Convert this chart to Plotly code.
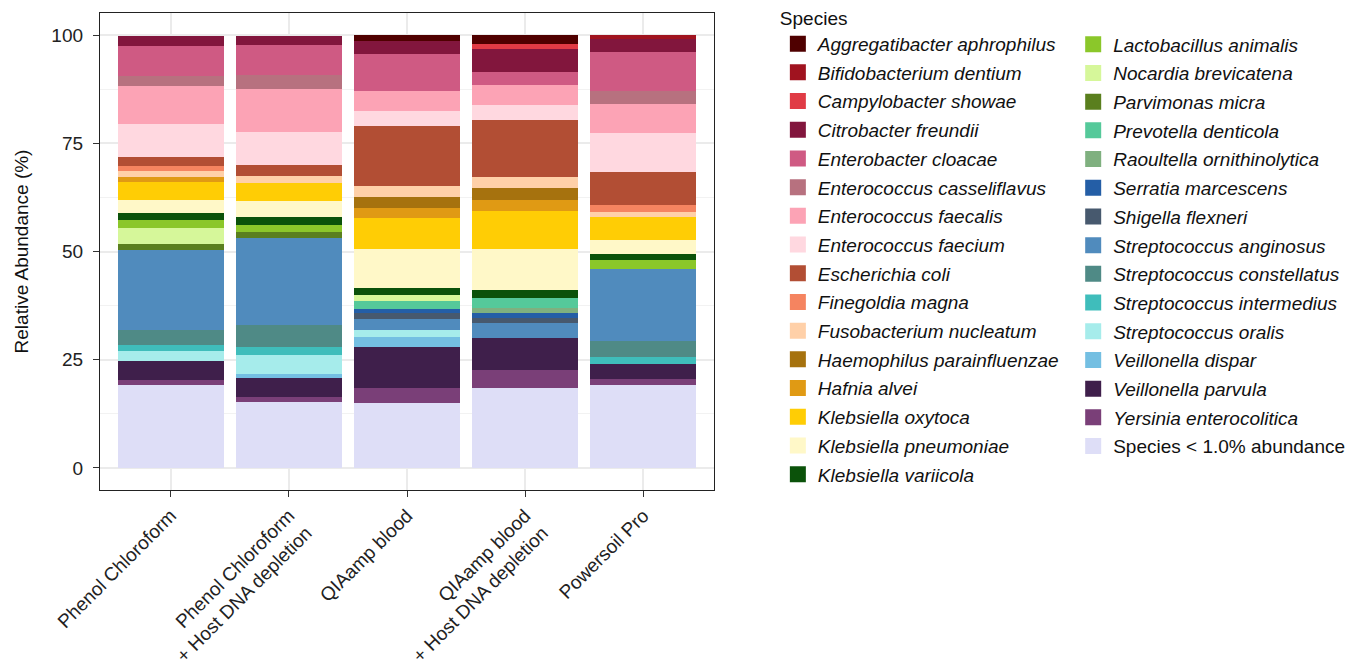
import plotly.graph_objects as go

samples = [
    "Phenol Chloroform",
    "Phenol Chloroform<br>+ Host DNA depletion",
    "QIAamp blood",
    "QIAamp blood<br>+ Host DNA depletion",
    "Powersoil Pro",
]

species = [
    "Aggregatibacter aphrophilus", "Bifidobacterium dentium", "Campylobacter showae",
    "Citrobacter freundii", "Enterobacter cloacae", "Enterococcus casseliflavus",
    "Enterococcus faecalis", "Enterococcus faecium", "Escherichia coli",
    "Finegoldia magna", "Fusobacterium nucleatum", "Haemophilus parainfluenzae",
    "Hafnia alvei", "Klebsiella oxytoca", "Klebsiella pneumoniae",
    "Klebsiella variicola", "Lactobacillus animalis", "Nocardia brevicatena",
    "Parvimonas micra", "Prevotella denticola", "Raoultella ornithinolytica",
    "Serratia marcescens", "Shigella flexneri", "Streptococcus anginosus",
    "Streptococcus constellatus", "Streptococcus intermedius", "Streptococcus oralis",
    "Veillonella dispar", "Veillonella parvula", "Yersinia enterocolitica",
    "Species < 1.0% abundance",
]

colors = [
    "#4F0000", "#A0131F", "#E03B45", "#82163D", "#CF5A83", "#B7717F",
    "#FCA3B5", "#FFD8E0", "#B24E34", "#F58460", "#FFD0A8", "#A6720E",
    "#E09A14", "#FFCD05", "#FFF8C8", "#0B520A", "#8BC72A", "#D6F79A",
    "#5A7F1E", "#55C99A", "#7FB07F", "#245EA6", "#47596E", "#508BBD",
    "#4F8A86", "#3FBDBB", "#A6ECEB", "#74BFE2", "#3F1F4B", "#7A3F78",
    "#DEDEF7",
]

# Relative abundance (%) per sample, in the species order above
phenol_chloroform = [0, 0, 0, 2.5, 6.9, 2.3, 8.8, 7.5, 2.2, 1.0, 1.6, 0, 1.1, 4.2, 3.0,
                     1.5, 1.8, 3.7, 1.5, 0, 0, 0, 0, 18.4, 3.4, 1.6, 2.3, 0, 4.3, 1.2, 19.1]
phenol_chloroform_hd = [0, 0, 0, 2.3, 6.9, 3.2, 9.9, 7.6, 2.5, 0, 1.6, 0, 0, 4.2, 3.7,
                        1.9, 1.7, 0, 1.3, 0, 0, 0, 0, 20.1, 5.0, 1.9, 4.3, 1.1, 4.4, 1.0, 15.3]
qiaamp_blood = [1.3, 0, 0, 3.1, 8.5, 0, 4.6, 3.4, 14.0, 0, 2.6, 2.5, 2.3, 7.2, 8.9,
                1.7, 0, 1.3, 0, 1.8, 0, 1.1, 1.3, 2.6, 0, 0, 1.5, 2.3, 9.6, 3.5, 14.9]
qiaamp_blood_hd = [2.0, 0, 1.2, 5.4, 3.0, 0, 4.6, 3.4, 13.2, 0, 2.6, 2.6, 2.6, 8.9, 9.4,
                   1.9, 0, 0, 0, 2.2, 1.2, 1.2, 1.1, 3.5, 0, 0, 0, 0, 7.4, 4.2, 18.4]
powersoil_pro = [0, 1.0, 0, 3.0, 9.0, 2.9, 6.7, 9.1, 7.6, 1.6, 1.1, 0, 0, 5.4, 3.2,
                 1.3, 2.1, 0, 0, 0, 0, 0, 0, 16.7, 3.7, 1.5, 0, 0, 3.5, 1.5, 19.1]

sample_values = [phenol_chloroform, phenol_chloroform_hd, qiaamp_blood,
                 qiaamp_blood_hd, powersoil_pro]

FONT = "Liberation Sans, Arial, sans-serif"
fig = go.Figure()

n = len(species)
# stacked bars: bottom segment (last species) first
for i in reversed(range(n)):
    name = species[i]
    fig.add_trace(go.Bar(
        x=samples,
        y=[vals[i] for vals in sample_values],
        name=name,
        legendgroup=name,
        showlegend=False,
        marker=dict(color=colors[i], line=dict(width=0)),
        hovertemplate=name + ": %{y}%<extra></extra>",
    ))

# legend entries (larger square keys), split over two columns
for i in range(n):
    name = species[i]
    label = name if name.startswith("Species <") else f"<i>{name}</i>"
    fig.add_trace(go.Scatter(
        x=[None], y=[None],
        mode="markers",
        name=label,
        legendgroup=name,
        legend="legend" if i < 16 else "legend2",
        legendrank=i + 1,
        marker=dict(symbol="square", size=16, color=colors[i], line=dict(width=0)),
        hoverinfo="skip",
    ))

legend_common = dict(
    xanchor="left", yanchor="top",
    traceorder="grouped", tracegroupgap=1,
    font=dict(size=19, color="#111111"),
    bgcolor="rgba(0,0,0,0)",
    maxheight=640,
)

fig.update_layout(
    width=1351, height=664,
    barmode="stack",
    bargap=0.1,
    paper_bgcolor="white",
    plot_bgcolor="white",
    margin=dict(l=100, r=637, t=13, b=174, autoexpand=False),
    font=dict(family=FONT, size=19, color="#222222"),
    legend=dict(
        title=dict(text="Species", font=dict(size=19, color="#111111")),
        x=1.104, y=1.027, **legend_common,
    ),
    legend2=dict(
        x=1.585, y=0.974, **legend_common,
    ),
    xaxis=dict(
        tickangle=-45,
        automargin=False,
        showgrid=True, gridcolor="#EBEBEB", gridwidth=1.5,
        showline=True, mirror=True, linecolor="#222222", linewidth=1.3,
        ticks="outside", ticklen=6, tickcolor="#333333", tickwidth=1.2,
        tickfont=dict(size=19, color="#222222"),
        range=[-0.6, 4.6],
    ),
    yaxis=dict(
        automargin=False,
        title=dict(text="Relative Abundance (%)", font=dict(size=19, color="#111111"), standoff=17),
        range=[-5.1, 105.1],
        tickvals=[0, 25, 50, 75, 100],
        showgrid=True, gridcolor="#EBEBEB", gridwidth=1.5,
        minor=dict(tickvals=[12.5, 37.5, 62.5, 87.5], showgrid=True, gridcolor="#F2F2F2", gridwidth=1),
        zeroline=False,
        showline=True, mirror=True, linecolor="#222222", linewidth=1.3,
        ticks="outside", ticklen=6, tickcolor="#333333", tickwidth=1.2,
        ticklabelstandoff=6,
        tickfont=dict(size=19, color="#222222"),
    ),
)

fig.write_html(
    "out.html",
    config={"displayModeBar": False},
    post_script="document.body.style.margin='0';document.body.style.overflow='hidden';",
)
